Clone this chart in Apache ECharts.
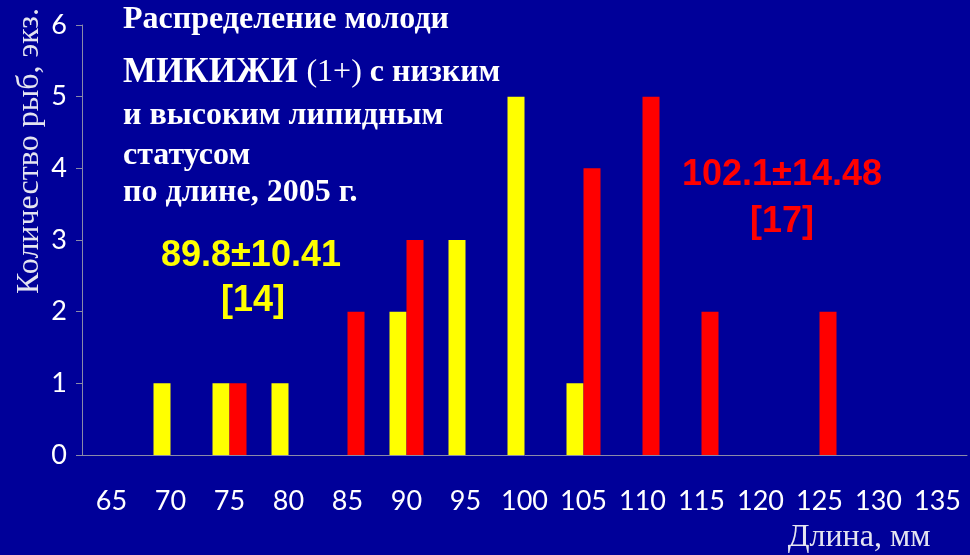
<!DOCTYPE html>
<html>
<head>
<meta charset="utf-8">
<script src="https://cdn.jsdelivr.net/npm/echarts@6/dist/echarts.min.js"></script>
<style>
  html, body { margin: 0; padding: 0; background: #000099; }
  #chart { width: 970px; height: 555px; }
</style>
</head>
<body>
<div id="chart"></div>
<script>
// Length classes, mm
const lengthClasses = ['65', '70', '75', '80', '85', '90', '95', '100', '105', '110', '115', '120', '125', '130', '135'];
// Number of fish per length class: low lipid status
const lowLipid  = [0, 1, 1, 1, 0, 2, 3, 5, 1, 0, 0, 0, 0, 0, 0];
// Number of fish per length class: high lipid status
const highLipid = [0, 0, 1, 0, 2, 3, 0, 0, 4, 5, 2, 0, 2, 0, 0];
// Count axis ticks
const countTicks = [0, 1, 2, 3, 4, 5, 6];

const chart = echarts.init(document.getElementById('chart'));

const axisGrey = '#8a8aa8';
const serif = '"Liberation Serif", "Times New Roman", serif';
const sans = 'Lato, "Open Sans", sans-serif';
const arial = '"Liberation Sans", Arial, sans-serif';

chart.setOption({
  backgroundColor: '#000099',
  animation: false,
  grid: { left: 82, right: 3, top: 25, bottom: 100 },
  xAxis: {
    type: 'category',
    data: lengthClasses,
    boundaryGap: true,
    axisLine: { lineStyle: { color: axisGrey, width: 1 } },
    axisTick: { length: 9, lineStyle: { color: axisGrey } },
    axisLabel: { color: '#ffffff', fontFamily: sans, fontSize: 27, margin: 33, interval: 0 }
  },
  yAxis: {
    type: 'value',
    min: countTicks[0],
    max: countTicks[countTicks.length - 1],
    interval: 1,
    axisLine: { show: true, lineStyle: { color: axisGrey, width: 1 } },
    axisTick: { show: true, length: 6, lineStyle: { color: axisGrey } },
    splitLine: { show: false },
    axisLabel: { color: '#ffffff', fontFamily: sans, fontSize: 27, margin: 15 }
  },
  series: [
    {
      name: 'низкий липидный статус',
      type: 'bar',
      data: lowLipid,
      barWidth: 17,
      barGap: '0%',
      itemStyle: { color: '#ffff00' }
    },
    {
      name: 'высокий липидный статус',
      type: 'bar',
      data: highLipid,
      barWidth: 17,
      barGap: '0%',
      itemStyle: { color: '#ff0000' }
    }
  ],
  graphic: [
    {
      type: 'text', x: 30, y: 151, rotation: Math.PI / 2,
      style: {
        text: 'Количество рыб, экз.', fill: '#e4e4f0',
        font: '32px ' + serif, align: 'center', verticalAlign: 'middle'
      }
    },
    {
      type: 'text', x: 859, y: 538,
      style: {
        text: 'Длина, мм', fill: '#e4e4f0',
        font: '32px ' + serif, align: 'center', verticalAlign: 'middle'
      }
    },
    {
      type: 'text', x: 123, y: 20,
      style: {
        text: 'Распределение молоди', fill: '#ffffff',
        font: 'bold 32px ' + serif, align: 'left', verticalAlign: 'middle'
      }
    },
    {
      type: 'text', x: 123, y: 73,
      style: {
        text: '{big|МИКИЖИ }{norm|(1+) }{b|с низким}',
        align: 'left', verticalAlign: 'middle',
        rich: {
          big: { fill: '#ffffff', fontFamily: serif, fontWeight: 'bold', fontSize: 35 },
          norm: { fill: '#ffffff', fontFamily: serif, fontWeight: 'normal', fontSize: 32 },
          b: { fill: '#ffffff', fontFamily: serif, fontWeight: 'bold', fontSize: 32 }
        }
      }
    },
    {
      type: 'text', x: 123, y: 116,
      style: {
        text: 'и высоким липидным', fill: '#ffffff',
        font: 'bold 32px ' + serif, align: 'left', verticalAlign: 'middle'
      }
    },
    {
      type: 'text', x: 123, y: 156,
      style: {
        text: 'статусом', fill: '#ffffff',
        font: 'bold 32px ' + serif, align: 'left', verticalAlign: 'middle'
      }
    },
    {
      type: 'text', x: 123, y: 193,
      style: {
        text: 'по длине, 2005 г.', fill: '#ffffff',
        font: 'bold 32px ' + serif, align: 'left', verticalAlign: 'middle'
      }
    },
    {
      type: 'text', x: 251, y: 256,
      style: {
        text: '89.8±10.41', fill: '#ffff00',
        font: 'bold 36px ' + arial, align: 'center', verticalAlign: 'middle'
      }
    },
    {
      type: 'text', x: 253, y: 301,
      style: {
        text: '[14]', fill: '#ffff00',
        font: 'bold 36px ' + arial, align: 'center', verticalAlign: 'middle'
      }
    },
    {
      type: 'text', x: 782, y: 175,
      style: {
        text: '102.1±14.48', fill: '#ff0000',
        font: 'bold 36px ' + arial, align: 'center', verticalAlign: 'middle'
      }
    },
    {
      type: 'text', x: 782, y: 222,
      style: {
        text: '[17]', fill: '#ff0000',
        font: 'bold 36px ' + arial, align: 'center', verticalAlign: 'middle'
      }
    }
  ]
});
</script>
</body>
</html>
